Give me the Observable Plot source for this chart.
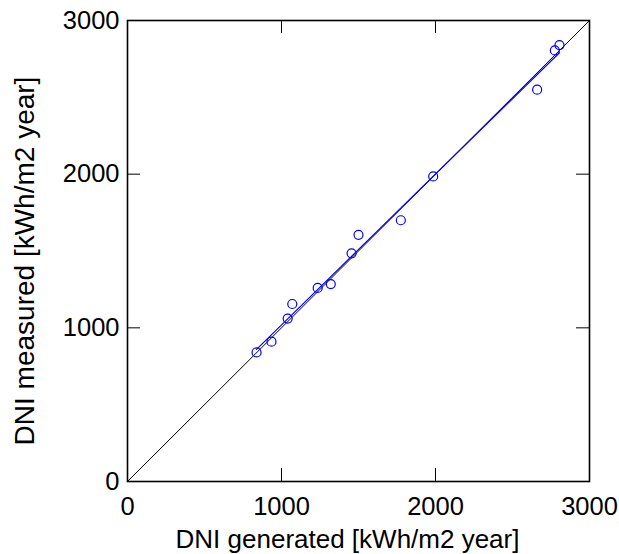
<!DOCTYPE html>
<html><head><meta charset="utf-8">
<script src="https://cdn.jsdelivr.net/npm/d3@7"></script>
<script src="https://cdn.jsdelivr.net/npm/@observablehq/plot@0.6"></script>
<style>body{margin:0;background:#fff;}</style>
</head><body><div id="chart"></div>
<script>
const generated = [838, 935, 1040, 1070, 1235, 1320, 1455, 1500, 1775, 1985, 2660, 2775, 2805];
const measured  = [840, 910, 1060, 1155, 1260, 1285, 1485, 1605, 1700, 1985, 2550, 2805, 2840];
const tickLabels = [0, 1000, 2000, 3000];
const innerTicks = [1000, 2000];
const diagonal = [0, 3000];
const xTitle = "DNI generated [kWh/m2 year]";
const yTitle = "DNI measured [kWh/m2 year]";

const points = generated.map((g, i) => ({g, m: measured[i]}));
const diag = diagonal.map(v => ({v}));

const chart = Plot.plot({
  width: 619, height: 554,
  marginLeft: 127, marginRight: 30, marginTop: 20, marginBottom: 73,
  style: {fontFamily: "Arial, 'Liberation Sans', sans-serif", fontSize: "25.5px", color: "#000", background: "#fff"},
  x: {domain: [0, 3000]},
  y: {domain: [0, 3000]},
  marks: [
    Plot.line(diag, {x: "v", y: "v", stroke: "#000", strokeWidth: 1}),
    Plot.linearRegressionY(points, {x: "g", y: "m", stroke: "#0000ff", ci: 0, strokeWidth: 1.2}),
    Plot.dot(points, {x: "g", y: "m", r: 4.5, stroke: "#0000ff", strokeWidth: 1.2}),
    // inward ticks on all four sides
    Plot.ruleX(innerTicks, {x: d => d, y1: () => 0, y2: () => 0, insetBottom: 13, stroke: "#000", strokeWidth: 1}),
    Plot.ruleX(innerTicks, {x: d => d, y1: () => 3000, y2: () => 3000, insetTop: 13, stroke: "#000", strokeWidth: 1}),
    Plot.ruleY(innerTicks, {y: d => d, x1: () => 0, x2: () => 0, insetLeft: 13, stroke: "#000", strokeWidth: 1}),
    Plot.ruleY(innerTicks, {y: d => d, x1: () => 3000, x2: () => 3000, insetRight: 13, stroke: "#000", strokeWidth: 1}),
    Plot.frame({stroke: "#000", strokeWidth: 1.6}),
    Plot.axisX({ticks: tickLabels, tickSize: 0, tickPadding: 15, tickFormat: d => String(d), label: null}),
    Plot.axisY({ticks: tickLabels, tickSize: 0, tickPadding: 8, tickFormat: d => String(d), label: null}),
    Plot.text([xTitle], {text: d => d, frameAnchor: "bottom", textAnchor: "middle", dx: -11, dy: 66, lineAnchor: "bottom", fontSize: 26, fill: "#000"}),
    Plot.text([yTitle], {text: d => d, frameAnchor: "left", textAnchor: "middle", rotate: -90, dx: -94, dy: 10, lineAnchor: "bottom", fontSize: 28, fill: "#000"})
  ]
});
document.getElementById("chart").append(chart);
</script>
</body></html>
